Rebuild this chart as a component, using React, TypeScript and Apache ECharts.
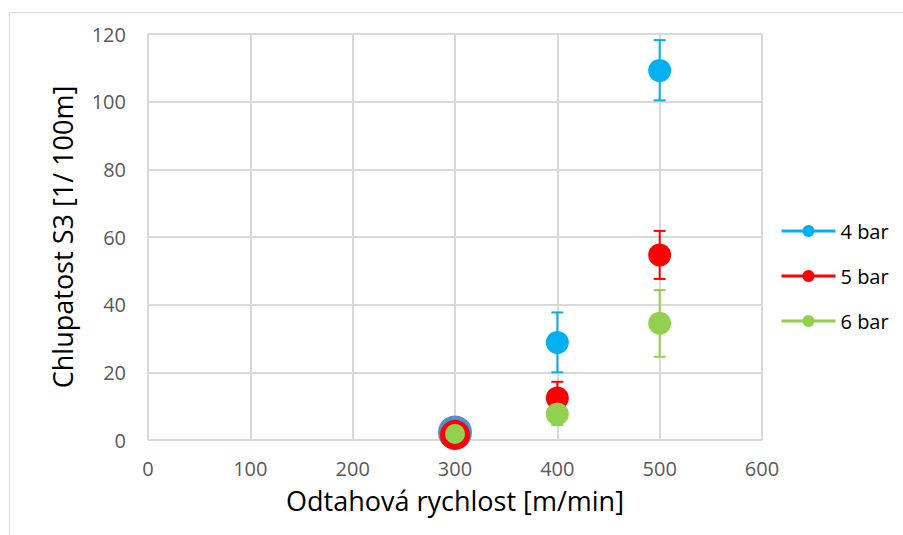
import React, { useEffect, useRef } from "react";
import * as echarts from "echarts";

const speeds = [300, 400, 500];
const bar4 = [2.2, 28.8, 109.2];
const bar4Low = [2.2, 20.0, 100.4];
const bar4High = [2.2, 37.7, 118.2];
const bar5 = [1.5, 12.4, 54.7];
const bar5Low = [1.5, 8.5, 47.6];
const bar5High = [1.5, 17.2, 61.8];
const bar6 = [1.8, 7.7, 34.5];
const bar6Low = [1.8, 4.4, 24.6];
const bar6High = [1.8, 11.0, 44.3];
const seriesNames = ["4 bar", "5 bar", "6 bar"];
const xTicks = { min: 0, max: 600, interval: 100 };
const yTicks = { min: 0, max: 120, interval: 20 };

const colors = ["#00B0F0", "#FF0000", "#92D050"];
const FONT = "Open Sans";

export default function App() {
  const ref = useRef<HTMLDivElement>(null);
  useEffect(() => {
    if (!ref.current) return;
    const chart = echarts.init(ref.current, undefined, { renderer: "svg" });
    const vals = [bar4, bar5, bar6];
    const lows = [bar4Low, bar5Low, bar6Low];
    const highs = [bar4High, bar5High, bar6High];
    const firstStyle = [
      { symbolSize: 31, itemStyle: { borderColor: "#5B8BD0", borderWidth: 3 } },
      { symbolSize: 28, itemStyle: { borderColor: "#FF0000", borderWidth: 2 } },
      { symbolSize: 20 },
    ];
    const errSeries = vals.map((_, i) => ({
      type: "custom",
      name: seriesNames[i] + " err",
      z: 2,
      silent: true,
      data: speeds.map((s, j) => [s, lows[i][j], highs[i][j]]),
      renderItem: (params: any, api: any) => {
        const x = api.value(0);
        const lo = api.value(1);
        const hi = api.value(2);
        if (lo === hi) return { type: "group", children: [] };
        const pLo = api.coord([x, lo]);
        const pHi = api.coord([x, hi]);
        const w = 6;
        const st = { stroke: colors[i], lineWidth: 2 };
        return {
          type: "group",
          children: [
            { type: "line", shape: { x1: pLo[0], y1: pLo[1], x2: pHi[0], y2: pHi[1] }, style: st },
            { type: "line", shape: { x1: pLo[0] - w, y1: pLo[1], x2: pLo[0] + w, y2: pLo[1] }, style: st },
            { type: "line", shape: { x1: pHi[0] - w, y1: pHi[1], x2: pHi[0] + w, y2: pHi[1] }, style: st },
          ],
        };
      },
    }));
    const pointSeries = vals.map((v, i) => ({
      type: "line",
      name: seriesNames[i],
      z: 3 + i,
      symbol: "circle",
      symbolSize: 23,
      showSymbol: true,
      lineStyle: { opacity: 0, width: 0 },
      itemStyle: { color: colors[i] },
      data: speeds.map((s, j) =>
        j === 0 ? { value: [s, v[j]], ...firstStyle[i], itemStyle: { color: colors[i], ...(firstStyle[i] as any).itemStyle } } : { value: [s, v[j]] }
      ),
    }));
    chart.setOption({
      animation: false,
      backgroundColor: "#ffffff",
      textStyle: { fontFamily: FONT },
      graphic: [
        {
          type: "rect",
          shape: { x: 9.5, y: 12.5, width: 1000, height: 600 },
          style: { fill: "none", stroke: "#D9D9D9", lineWidth: 1 },
          silent: true,
        },
      ],
      grid: { left: 148, right: 141, top: 34, bottom: 95 },
      legend: {
        orient: "vertical",
        left: 780,
        top: 221,
        padding: 0,
        itemWidth: 54,
        itemHeight: 15,
        itemGap: 25,
        data: seriesNames,
        textStyle: { fontFamily: FONT, fontSize: 20, color: "#000000" },
        lineStyle: { opacity: 1, width: 3 },
        itemStyle: { borderWidth: 0 },
      },
      xAxis: {
        type: "value",
        ...xTicks,
        name: "Odtahová rychlost [m/min]",
        nameLocation: "middle",
        nameGap: 47,
        nameTextStyle: { fontFamily: FONT, fontSize: 27, color: "#000000" },
        axisLine: { show: false },
        axisTick: { show: false },
        axisLabel: { fontFamily: FONT, fontSize: 20, color: "#595959", margin: 18 },
        splitLine: { show: true, lineStyle: { color: "#D9D9D9", width: 2 } },
      },
      yAxis: {
        type: "value",
        ...yTicks,
        name: "Chlupatost S3 [1/ 100m]",
        nameLocation: "middle",
        nameGap: 72,
        nameTextStyle: { fontFamily: FONT, fontSize: 27, color: "#000000" },
        axisLine: { show: false },
        axisTick: { show: false },
        axisLabel: { fontFamily: FONT, fontSize: 20, color: "#595959", margin: 22 },
        splitLine: { show: true, lineStyle: { color: "#D9D9D9", width: 2 } },
      },
      series: [...errSeries, ...pointSeries],
    } as any);
    return () => chart.dispose();
  }, []);
  return (
    <div
      ref={ref}
      style={{ position: "fixed", left: 0, top: 0, width: 903, height: 535 }}
    />
  );
}
